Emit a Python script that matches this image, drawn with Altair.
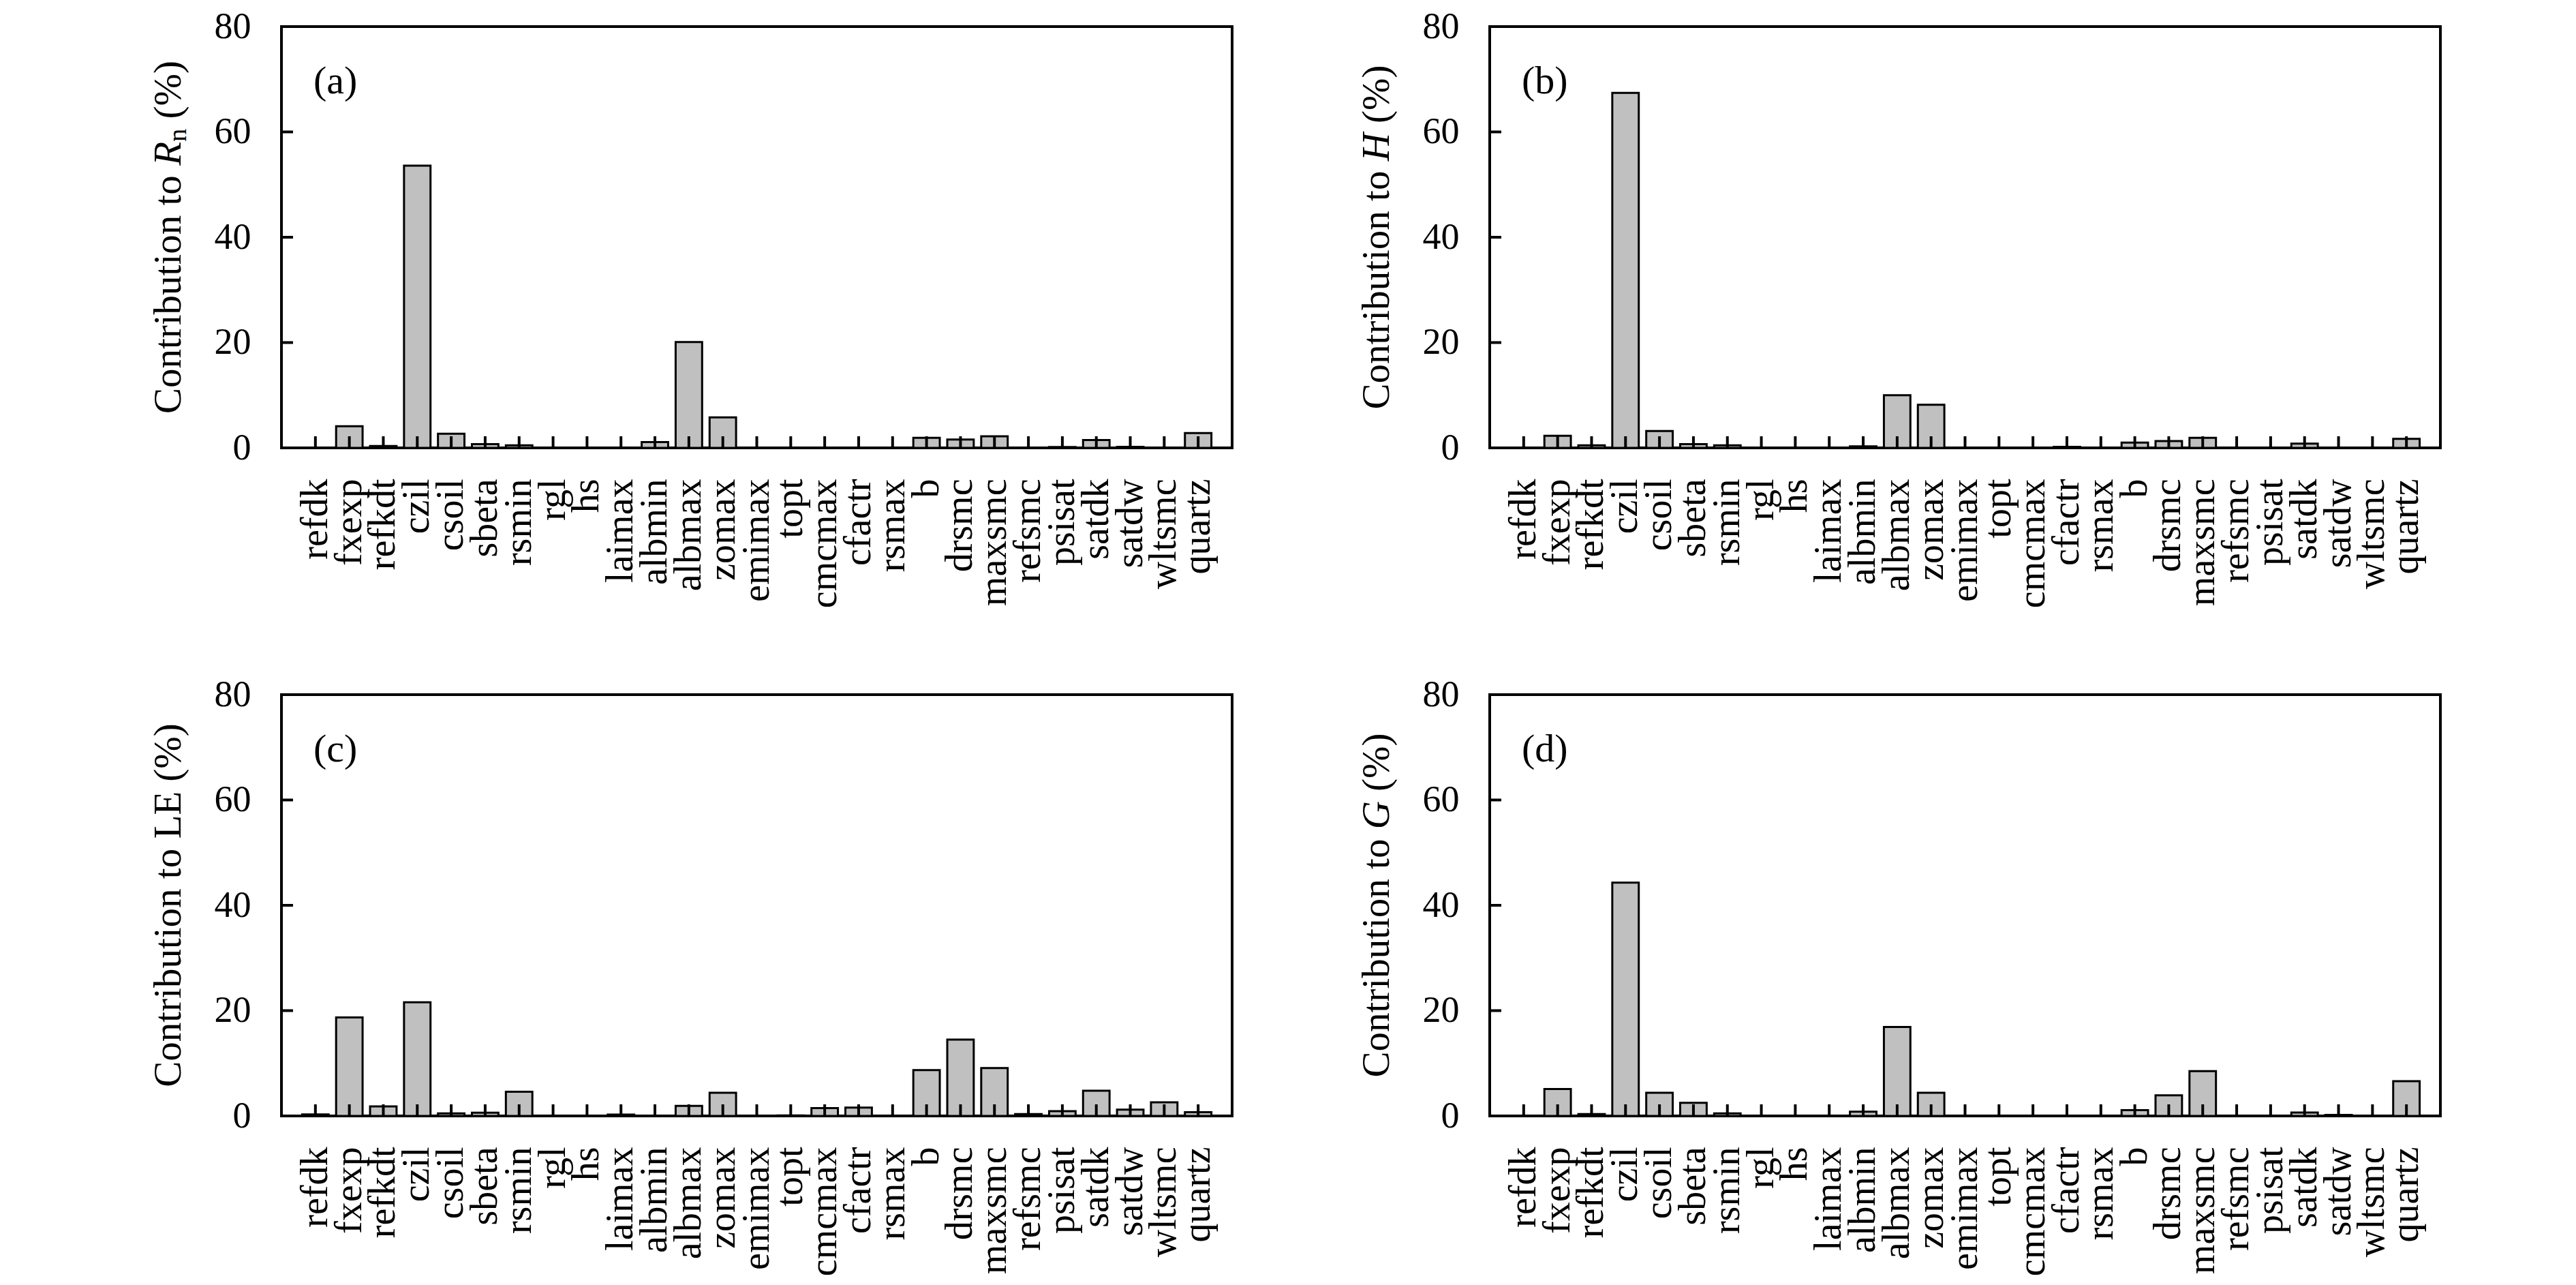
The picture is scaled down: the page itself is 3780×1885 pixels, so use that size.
import altair as alt
import pandas as pd

params = ["refdk", "fxexp", "refkdt", "czil", "csoil", "sbeta", "rsmin", "rgl", "hs",
          "laimax", "albmin", "albmax", "zomax", "emimax", "topt", "cmcmax", "cfactr",
          "rsmax", "b", "drsmc", "maxsmc", "refsmc", "psisat", "satdk", "satdw",
          "wltsmc", "quartz"]

rn_vals = [0, 4.1, 0.35, 53.6, 2.7, 0.7, 0.5, 0, 0, 0, 1.1, 20.1, 5.8, 0, 0, 0, 0, 0,
           1.9, 1.6, 2.2, 0, 0.17, 1.5, 0.2, 0, 2.8]
h_vals = [0, 2.3, 0.5, 67.4, 3.2, 0.7, 0.5, 0, 0, 0, 0.3, 10.0, 8.2, 0, 0, 0, 0.2, 0,
          1.0, 1.3, 1.9, 0, 0, 0.8, 0, 0, 1.7]
le_vals = [0.3, 18.7, 1.8, 21.6, 0.5, 0.6, 4.6, 0, 0, 0.25, 0.05, 1.9, 4.4, 0, 0.1, 1.5,
           1.6, 0, 8.7, 14.5, 9.1, 0.35, 0.9, 4.8, 1.2, 2.6, 0.7]
g_vals = [0, 5.1, 0.35, 44.3, 4.4, 2.5, 0.5, 0, 0, 0, 0.8, 16.9, 4.4, 0, 0, 0, 0.05, 0,
          1.1, 3.9, 8.5, 0, 0, 0.65, 0.2, 0, 6.6]

y_ticks = [0, 20, 40, 60, 80]
inner_ticks = [20, 40, 60]

# y-axis titles as segments: (text, italic, subscript)
title_a = [("Contribution to ", False, False), ("R", True, False), ("n", False, True), (" (%)", False, False)]
title_b = [("Contribution to ", False, False), ("H", True, False), (" (%)", False, False)]
title_c = [("Contribution to LE (%)", False, False)]
title_d = [("Contribution to ", False, False), ("G", True, False), (" (%)", False, False)]
letters = ["(a)", "(b)", "(c)", "(d)"]

FONT = "Liberation Serif"
W, H = 1395, 618
TICK = 17
TFS = 57          # title font size
SUB = 0.68        # subscript size factor

# Times / Liberation Serif advance widths (em)
ROMAN = {"C": .667, "o": .5, "n": .5, "t": .278, "r": .333, "i": .278, "b": .5, "u": .5,
         " ": .25, "(": .333, "%": .833, ")": .333, "L": .611, "E": .611}
ITAL = {"R": .611, "H": .722, "G": .722}

xscale = alt.Scale(domain=params, paddingInner=0.22, paddingOuter=0.61)
yscale = alt.Scale(domain=[0, 80], nice=False)

xaxis = alt.Axis(title=None, labelAngle=-90, labelPadding=45, ticks=False,
                 domain=False, labelFontSize=56, labelFont=FONT,
                 labelColor="black", labelOverlap=False, labelLimit=600)
yaxis = alt.Axis(values=y_ticks, title=None, ticks=False, domain=False,
                 grid=False, labelPadding=45, labelFontSize=54,
                 labelFont=FONT, labelColor="black")


def text_width(text, italic, size):
    table = ITAL if italic else ROMAN
    return sum(table.get(ch, 0.5) for ch in text) * size


def title_layers(segments):
    sizes = [TFS * (SUB if sub else 1.0) for _, _, sub in segments]
    widths = [text_width(t, it, s) for (t, it, _), s in zip(segments, sizes)]
    total = sum(widths)
    start = H / 2 + total / 2
    layers = []
    off = 0.0
    for (text, italic, sub), size, w in zip(segments, sizes, widths):
        lead = len(text) - len(text.lstrip(" "))
        shown = text.strip(" ")
        lead_w = text_width(" " * lead, False, size)
        xpos = -148 + (0.14 * TFS if sub else 0)
        layers.append(
            alt.Chart(pd.DataFrame({"t": [shown]})).mark_text(
                align="left", baseline="alphabetic", angle=270, fontSize=size,
                font=FONT, fontStyle="italic" if italic else "normal", color="black"
            ).encode(text="t:N", x=alt.value(xpos), y=alt.value(start - off - lead_w))
        )
        off += w
    return layers


def panel(vals, segments, letter):
    df = pd.DataFrame({"param": params, "value": vals})
    bars = alt.Chart(df).mark_bar(fill="#c0c0c0", stroke="black", strokeWidth=3).encode(
        x=alt.X("param:N", sort=params, scale=xscale, axis=xaxis),
        y=alt.Y("value:Q", scale=yscale, axis=yaxis),
    )
    xt = alt.Chart(df).mark_rule(color="black", strokeWidth=4).encode(
        x=alt.X("param:N", sort=params, scale=xscale, axis=xaxis),
        y=alt.value(H - TICK), y2=alt.value(H),
    )
    yt = alt.Chart(pd.DataFrame({"v": inner_ticks})).mark_rule(color="black", strokeWidth=4).encode(
        y=alt.Y("v:Q", scale=yscale, axis=yaxis),
        x=alt.value(0), x2=alt.value(TICK),
    )
    lab = alt.Chart(pd.DataFrame({"t": [letter]})).mark_text(
        align="left", baseline="middle", fontSize=58, font=FONT, color="black"
    ).encode(text="t:N", x=alt.value(47), y=alt.value(81))
    return alt.layer(bars, xt, yt, lab, *title_layers(segments)).properties(width=W, height=H)


pa = panel(rn_vals, title_a, letters[0])
pb = panel(h_vals, title_b, letters[1])
pc = panel(le_vals, title_c, letters[2])
pd_ = panel(g_vals, title_d, letters[3])

chart = alt.vconcat(
    alt.hconcat(pa, pb, spacing=180),
    alt.hconcat(pc, pd_, spacing=180),
    spacing=96,
).properties(
    padding={"left": 208, "top": 2, "right": 0, "bottom": 0},
    background="white",
).configure_view(
    stroke="black", strokeWidth=4
)

chart.save("out.html", embed_options={"renderer": "svg", "actions": False})
